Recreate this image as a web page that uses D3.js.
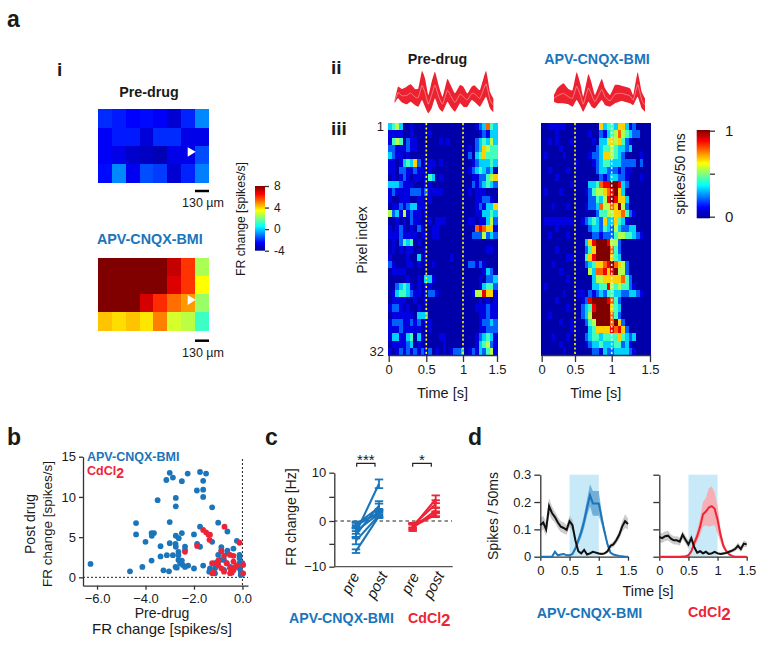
<!DOCTYPE html>
<html><head><meta charset="utf-8">
<script src="https://cdn.jsdelivr.net/npm/d3@7"></script>
<style>
html,body{margin:0;padding:0;background:#fff}
svg{display:block}
text{font-family:"Liberation Sans",Arial,sans-serif;fill:#1a1a1a}
.axis path,.axis line{stroke:#333;stroke-width:1.3}
.axis text{font-family:"Liberation Sans",Arial,sans-serif;fill:#1a1a1a}
</style></head><body>
<script>
// ---------- data ----------
const BLUE="#1a75bb", RED="#ee2436";
const mapPre=[
[-2,-2.2,-2.5,-2.4,-2.6,-3.1,-2.1,-0.9],
[-2.6,-2.2,-2.2,-3,-2,-2,-2.8,-2.8],
[-2.6,-2.8,-3.2,-3.3,-3.5,-2.8,-2.8,-1.6],
[-2.4,-0.9,-2.7,-1.6,-1.8,-3.1,-2.1,-1]];
const mapPost=[
[8,8,8,8,8,7.2,5.9,2.5],
[8,8,8,8,8,6.9,5.9,3.5],
[8,8,8,7,6,5.2,4.7,2.3],
[4.2,3.9,4.2,3.8,5,3,2.7,1.2]];
const rasterLevels=[.03,.09,.22,.33,.44,.55,.67,.78,.89,1];
const rasterPre=[
"3453001000 0000000000 0000123743","1111001000 0100000000 0000012133","1454021100 0000101000 0000234353",
"2211121100 0000000000 0010236544","3211010000 0000000000 0020346444","1101343620 1110100000 0001233343",
"1102211211 0100000000 0012343230","0101210110 1430100000 0001122456","3332111000 1100000000 0002123432",
"1211112221 2111100000 0010111000","1001110011 0100000000 0000112210","0112123311 1000000000 0000121336",
"5231512110 1000000000 0000113343","0010102110 0101110000 0011011352","1012101021 0011000000 0000787661",
"1112111101 1011000000 0002225232","0102434010 0000000000 0000000000","0101011000 1000000000 0000000110",
"1000010030 1000000100 0000000000","2100011010 0010000000 0022121000","0111100000 0000000000 0000001320",
"0000010010 3310000000 0000010223","0023431010 1100000000 0000013442","0134432110 1221000000 0001558661",
"0111100100 1000000000 0000010101","1221010010 0000000000 0000111211","0111111033 3000000000 0000011211",
"1222112120 1100000000 0000012232","1112111110 0100000000 0000011222","1331134031 0000110000 0000123431",
"0111123010 0000010000 0000134521","1012121212 1201010122 3012132451"];
const rasterPost=[
"0011111000 0000006344 3663120000","0000100000 0001002134 5754322000","0010100010 0000103356 5642100000",
"0000010000 0000023445 4332300000","0100001000 0001223665 4320000100","0000000001 0000123443 3322220200",
"0010000100 0000023322 2121100000","0000100000 0000002123 3221000100","0000000010 0003347889 9832000000",
"0100010000 0012455678 9630000000","0000000000 0002243589 8663000000","0001000100 0012237557 6952000000",
"0000000000 0000024455 6674210000","0111111110 0123432633 6431000000","0000100000 0002332432 5322330000",
"0010000100 0000221222 4554432100","0000000000 0036899985 5200000000","0000100000 0024699997 4200000000",
"0000000110 0046899996 4300000000","0001000000 0023466789 7652000000","0000010000 0005377868 9552000000",
"0000000100 0000355666 6674200000","0100000000 0000334485 4544210000","0000001000 1102123244 3322332100",
"0000100000 0128999987 4200000000","0000000100 0234899996 4300000000","0010000000 0235999997 4200000000",
"0000010010 0024599997 9620000000","0000000010 0003466668 7862000000","0001000100 0023443444 4643230000",
"0000010000 0012334333 4423100000","0000001000 0000221322 3333210000"];
const tracePreX=[14,24,35,50,62,75,85,96,105,115,125,135,147,158,172,182,195,210,220,232,245,255,270,288,300,310];
const tracePreTop=[45,85,78,85,92,78,80,132,110,60,100,130,85,55,108,90,65,90,85,65,85,88,75,132,70,50];
const tracePreBot=[35,50,38,32,40,30,25,45,25,5,20,50,20,10,40,25,10,35,25,25,45,38,25,55,20,8];
const tracePostX=[12,22,40,55,68,80,92,100,115,125,135,155,165,180,195,215,240,250,263,275,285];
const tracePostTop=[60,80,95,78,75,128,90,55,122,95,60,108,80,60,90,88,80,60,128,70,50];
const tracePostBot=[40,35,35,32,25,45,25,10,40,25,20,45,30,25,35,42,35,30,55,20,10];
const scatterBlueX=[-6.27,-4.64,-4.13,-4.39,-4.39,-4,-3.75,-3.65,-3.74,-3.5,-3.38,-3.38,-3.75,-3.26,-3.12,-3.03,-3,-3,-3.14,-3,-2.87,-2.87,-2.76,-2.75,-2.75,-2.75,-2.76,-2.63,-2.75,-2.5,-2.5,-2.26,-2.64,-2.64,-2.64,-2.5,-2.57,-2.46,-2.37,-2.71,-2.24,-2.37,-2.37,-2,-2,-1.88,-1.75,-1.5,-1.62,-1.62,-1.62,-1.25,-1.75,-1.87,-1.75,-1.62,-1.25,-1,-0.62,-0.23,-0.87,-0.87,-0.62,-0.62,-0.37,-1,-0.92,-1.13,-1.34,-1.37,-1.13,-1.13,-1,-0.76,-0.65,-0.76,-0.5,-0.37,-0.12,-0.12,-0.12,-0.12,-0.07,-0.07,0,0];
const scatterBlueY=[1.67,0.75,1.3,6.75,5.33,4.42,5.5,5.5,5.17,9.6,3.87,2.6,2.08,0.87,2.75,0.75,4.25,6.87,12.1,13,12.4,2.75,4.17,5.17,8.83,9.87,1.3,4.87,3.8,5.5,11.96,12.9,3.17,2.75,2.17,2.08,1.75,1.54,1.3,1.2,1.46,3.83,3.42,1.1,5.33,10.8,13.1,12.9,12,10.9,10,8.7,6.3,4.17,3.8,1.46,4.42,6.8,5.7,4.54,3.75,3.33,3.33,3,3.58,2.79,2.17,1.75,1.12,0.71,1.12,0.5,1.54,2.17,1.75,0.92,1.3,0.92,2.79,2.37,1.75,1.12,0.71,0.29,1.75,0.42];
const scatterRedX=[-1.62,-1.5,-1.4,-1.34,-1.36,-0.74,-0.12,-1.87,-2.37,-0.87,-1.25,-1.2,-1.25,-1,-1.06,-1,-0.87,-0.76,-0.65,-0.51,-0.37,-0.37,-0.51,-0.37,-0.3,-0.23,-0.51,-0.44,0.03,0.03,-0.76];
const scatterRedY=[5.9,5.6,5.3,5.3,4.67,6.3,4.3,3.9,3.17,3.25,1.75,0.62,0.5,2.08,1.75,1.54,1.12,2.67,1.75,2.79,2.67,1.96,1.12,0.92,1.3,1.46,0.5,0.58,1.54,0.5,0.71];
const blueLinesPre=[-6.6,-4.3,-3,-2.5,-2.2,-1,-0.8,-0.5];
const blueLinesPost=[1,1.2,3.2,7.7,1.5,1.8,2.8,1.5];
const blueErrPre=[0.4,0.8,0.8,1,0.6,0.6,0.5,0.4];
const blueErrPost=[0.4,0.5,0.9,0.9,0.6,0.7,0.8,0.7];
const redLinesPre=[-1.2,-1.5,-1,-1.3,-0.9];
const redLinesPost=[1.3,2.2,3.5,4.5,1.5];
const redErrPre=[0.6,0.7,0.5,0.6,0.5];
const redErrPost=[0.5,0.6,0.8,0.8,0.5];
const timeD=[0,.05,.1,.15,.2,.25,.3,.35,.4,.45,.5,.55,.6,.65,.7,.75,.8,.85,.9,.95,1,1.05,1.1,1.15,1.2,1.25,1.3,1.35,1.4,1.45,1.5];
const dLeftBlack=[.115,.125,.1,.185,.16,.145,.125,.11,.105,.098,.13,.115,.06,.02,.012,.025,.008,.012,.018,.015,.012,.01,.012,.02,.04,.045,.06,.08,.11,.13,.12];
const dLeftBlackErr=[.025,.025,.025,.03,.025,.02,.02,.02,.02,.018,.02,.02,.012,.006,.004,.005,.003,.004,.004,.004,.004,.004,.004,.006,.008,.01,.012,.015,.02,.025,.02];
const dLeftDrug=[0,0,0,0,0,.018,.005,.008,.01,.005,.005,.01,.03,.06,.09,.13,.18,.225,.195,.195,.195,.14,.09,.045,.015,.008,.005,.003,.002,0,0];
const dLeftDrugErr=[0,0,0,0,0,.004,.002,.002,.002,.002,.002,.004,.008,.012,.02,.025,.03,.04,.045,.045,.045,.025,.015,.008,.004,.002,.002,.001,.001,0,0];
const dRightBlack=[.072,.068,.075,.077,.066,.06,.06,.055,.08,.062,.045,.068,.035,.015,.02,.012,.018,.01,.012,.018,.012,.01,.012,.014,.018,.022,.028,.04,.028,.048,.045];
const dRightBlackErr=[.018,.018,.018,.018,.015,.015,.015,.015,.015,.015,.015,.015,.01,.005,.005,.005,.005,.004,.004,.004,.004,.004,.004,.005,.006,.007,.008,.012,.01,.012,.01];
const dRightDrug=[0,0,0,0,0,0,0,0,.001,.002,.005,.02,.05,.075,.11,.155,.165,.18,.185,.175,.135,.08,.04,.02,.008,.003,0,0,0,0,0];
const dRightDrugErr=[0,0,0,0,0,0,0,0,.001,.001,.003,.008,.015,.02,.03,.045,.05,.07,.072,.06,.05,.025,.012,.006,.003,.001,0,0,0,0,0];

// ---------- helpers ----------
const svg=d3.select("body").append("svg").attr("width",762).attr("height",646);
const jetStops=[0,.125,.375,.625,.875,1];
const jetCols=["#00008f","#0000ff","#00ffff","#ffff00","#ff0000","#800000"];
const jet=d3.scaleLinear().domain(jetStops).range(jetCols).clamp(true);
const frColor=d3.scaleLinear().domain(jetStops.map(v=>-4+12*v)).range(jetCols).clamp(true);
function T(x,y,s,o={}){
  const t=svg.append("text").attr("x",x).attr("y",y).text(s)
    .style("font-size",(o.size||14.5)+"px").style("font-weight",o.bold?"700":"400")
    .attr("text-anchor",o.anchor||"start");
  if(o.fill)t.style("fill",o.fill);
  if(o.rot!=null)t.attr("transform",`rotate(${o.rot} ${x} ${y})`);
  if(o.italic)t.style("font-style","italic");
  return t;
}
function styleAxis(g,size){g.attr("class","axis").selectAll("text").style("font-size",(size||13)+"px");return g;}

// ---------- panel letters ----------
T(7,27,"a",{bold:true,size:23});T(7,445,"b",{bold:true,size:23});T(265,445,"c",{bold:true,size:23});T(468,445,"d",{bold:true,size:23});
T(57,76,"i",{bold:true,size:19});T(331,74,"ii",{bold:true,size:19});T(331,135,"iii",{bold:true,size:19});

// ---------- a-i: FR maps ----------
function frMap(data,y0,y1){
  const x=d3.scaleBand().domain(d3.range(8)).range([98,208.7]);
  const y=d3.scaleBand().domain(d3.range(4)).range([y0,y1]);
  data.forEach((row,r)=>{
    svg.append("g").attr("shape-rendering","crispEdges").selectAll("rect").data(row).join("rect")
      .attr("x",(d,c)=>x(c)).attr("y",y(r)).attr("width",x.bandwidth()+.6).attr("height",y.bandwidth()+.6)
      .attr("fill",d=>frColor(d));
  });
}
frMap(mapPre,109.3,182.7);frMap(mapPost,258,330);
T(149,97,"Pre-drug",{bold:true,size:14.3,anchor:"middle"});
T(97,244,"APV-CNQX-BMI",{bold:true,size:14.3,fill:BLUE});
svg.append("path").attr("d",d3.line()([[187.7,147.3],[195.7,151.7],[187.7,156.7]])+"Z").attr("fill","#fff");
svg.append("path").attr("d",d3.line()([[187.7,295],[195.7,299.7],[187.7,305]])+"Z").attr("fill","#fff");
[[191],[340.7]].forEach(([y])=>svg.append("line").attr("x1",195).attr("x2",209).attr("y1",y).attr("y2",y).attr("stroke","#000").attr("stroke-width",2.5));
T(203,207,"130 µm",{size:12.5,anchor:"middle"});T(203,356.5,"130 µm",{size:12.5,anchor:"middle"});

const defs=svg.append("defs");
const lg=defs.append("linearGradient").attr("id","jetGrad").attr("x1",0).attr("x2",0).attr("y1",1).attr("y2",0);
jetStops.forEach((s,i)=>lg.append("stop").attr("offset",s).attr("stop-color",jetCols[i]));
svg.append("rect").attr("x",255).attr("y",186).attr("width",10).attr("height",64.7).attr("fill","url(#jetGrad)");
const cb1=d3.scaleLinear().domain([-4,8]).range([250.7,186]);
styleAxis(svg.append("g").attr("transform","translate(265,0)").call(d3.axisRight(cb1).tickValues([-4,0,4,8]).tickSize(4).tickSizeOuter(0).tickFormat(d=>String(d)).tickPadding(5)),12)
  .select(".domain").remove();
T(245,219,"FR change [spikes/s]",{size:12.2,anchor:"middle",rot:-90});

// ---------- a-ii: traces ----------
function trace(xs,top,bot,range){
  const x=d3.scaleLinear().domain(range.d).range(range.r);
  const y=d3.scaleLinear().domain([0,150]).range([115,65]);
  const a=d3.area().x((d,i)=>x(xs[i])).y0((d,i)=>y(bot[i])).y1(d=>y(d)).curve(d3.curveCardinal.tension(.6));
  svg.append("path").datum(top).attr("d",a).attr("fill","#ed2230");
  const l=d3.line().x((d,i)=>x(xs[i])).y((d,i)=>y((d+bot[i])/2)).curve(d3.curveCardinal.tension(.6));
  svg.append("path").datum(top).attr("d",l).attr("fill","none").attr("stroke","#f7a0a5").attr("stroke-width",.7);
}
trace(tracePreX,tracePreTop,tracePreBot,{d:[0,330],r:[390,500]});
trace(tracePostX,tracePostTop,tracePostBot,{d:[0,300],r:[550,650]});
T(437.5,64,"Pre-drug",{bold:true,size:14.3,anchor:"middle"});
T(597,64,"APV-CNQX-BMI",{bold:true,size:14.3,anchor:"middle",fill:BLUE});

// ---------- a-iii: rasters ----------
function raster(rows,x0,x1,tickPx,lineColors){
  const x=d3.scaleLinear().domain([0,1.5]).range([x0,x1]);
  const xTick=d3.scaleLinear().domain([0,.5,1,1.5]).range(tickPx);
  const y=d3.scaleBand().domain(d3.range(1,33)).range([123,355]);
  const w=x(.05)-x(0);
  rows.forEach((s,r)=>{
    const vals=s.replace(/ /g,"").split("").map(c=>rasterLevels[+c]);
    svg.append("g").attr("shape-rendering","crispEdges").selectAll("rect").data(vals).join("rect")
      .attr("x",(d,c)=>x(c*.05)).attr("y",y(r+1)).attr("width",w+.6).attr("height",y.bandwidth()+.6)
      .attr("fill",d=>jet(d));
  });
  [.5,1].forEach((t,i)=>svg.append("line").attr("x1",xTick(t)).attr("x2",xTick(t)).attr("y1",123).attr("y2",355)
    .attr("stroke",lineColors[i]).attr("stroke-width",1.6).attr("stroke-dasharray","2.2 2.2"));
  styleAxis(svg.append("g").attr("transform","translate(0,355)").call(d3.axisBottom(xTick).tickValues([0,.5,1,1.5]).tickFormat(d3.format("~g")).tickSize(7).tickSizeOuter(0).tickPadding(3)));
  T((x0+x1)/2,397.5,"Time [s]",{anchor:"middle"});
  return y;
}
const yr=raster(rasterPre,388,497,[388.7,426.3,463,497],["#ffff00","#ffff00"]);
raster(rasterPost,540.7,650.7,[541.7,575,611.7,650],["#ffff00","#d8f8ff"]);
styleAxis(svg.append("g").attr("transform","translate(387,0)").call(d3.axisLeft(yr).tickValues([1,32]).tickSize(0).tickPadding(3)),13).select(".domain").remove();
T(367,240,"Pixel index",{size:14,anchor:"middle",rot:-90});
svg.append("rect").attr("x",696.7).attr("y",130).attr("width",13.3).attr("height",88.3).attr("fill","url(#jetGrad)");
const cb2=d3.scaleLinear().domain([0,1]).range([216.7,130.7]);
styleAxis(svg.append("g").attr("transform","translate(710,0)").call(d3.axisRight(cb2).tickValues([0,.5,1]).tickFormat(d=>d===.5?"":d).tickSize(5).tickSizeOuter(0).tickPadding(10)),15).select(".domain").remove();
T(685,174,"spikes/50 ms",{size:14,anchor:"middle",rot:-90});

// ---------- b: scatter ----------
const bx=d3.scaleLinear().domain([-6.58,.23]).range([83,248]);
const by=d3.scaleLinear().domain([-1.04,15]).range([585.7,456.7]);
svg.append("line").attr("x1",83).attr("x2",248).attr("y1",by(0)).attr("y2",by(0)).attr("stroke","#222").attr("stroke-dasharray","2 2").attr("stroke-width",1);
svg.append("line").attr("x1",bx(0)).attr("x2",bx(0)).attr("y1",459).attr("y2",587).attr("stroke","#222").attr("stroke-dasharray","2 2").attr("stroke-width",1);
svg.append("g").selectAll("circle").data(scatterBlueX).join("circle").attr("cx",d=>bx(d)).attr("cy",(d,i)=>by(scatterBlueY[i])).attr("r",2.9).attr("fill",BLUE);
svg.append("g").selectAll("circle").data(scatterRedX).join("circle").attr("cx",d=>bx(d)).attr("cy",(d,i)=>by(scatterRedY[i])).attr("r",2.9).attr("fill",RED);
styleAxis(svg.append("g").attr("transform","translate(83,0)").call(d3.axisLeft(by).tickValues([0,5,10,15]).tickSize(4).tickSizeOuter(0).tickPadding(3)));
styleAxis(svg.append("g").attr("transform","translate(0,585.7)").call(d3.axisBottom(bx).tickValues([-6,-4,-2,0]).tickSize(4).tickSizeOuter(0).tickPadding(4)));
T(87,461,"APV-CNQX-BMI",{bold:true,size:12.5,fill:BLUE});
const cd1=T(87,475,"CdCl",{bold:true,size:12.5,fill:RED});cd1.append("tspan").attr("dy",3).text("2").style("font-size","14px");
T(35,524,"Post drug",{size:14,anchor:"middle",rot:-90});T(52,524,"FR change [spikes/s]",{size:13.5,anchor:"middle",rot:-90});
T(162,618,"Pre-drug",{size:14,anchor:"middle"});T(162,634,"FR change [spikes/s]",{size:15,anchor:"middle"});

// ---------- c: paired ----------
const cy=d3.scaleLinear().domain([-10,0,10]).range([566.7,521,472.7]);
const cxp={pre:356,post:379,pre2:412.7,post2:435.7};
svg.append("line").attr("x1",334).attr("x2",452).attr("y1",cy(0)).attr("y2",cy(0)).attr("stroke","#222").attr("stroke-dasharray","3.5 3").attr("stroke-width",1);
function pairs(pre,post,ep,eq,xa,xb,col){
  const g=svg.append("g").attr("stroke",col).attr("fill","none");
  pre.forEach((v,i)=>{
    g.append("line").attr("x1",xa).attr("x2",xb).attr("y1",cy(v)).attr("y2",cy(post[i])).attr("stroke-width",2.1);
    [[xa,v,ep[i]],[xb,post[i],eq[i]]].forEach(([x,m,e])=>{
      g.append("line").attr("x1",x).attr("x2",x).attr("y1",cy(m-e)).attr("y2",cy(m+e)).attr("stroke-width",1.8);
      [m-e,m+e].forEach(c=>g.append("line").attr("x1",x-4.2).attr("x2",x+4.2).attr("y1",cy(c)).attr("y2",cy(c)).attr("stroke-width",1.8));
    });
  });
}
pairs(blueLinesPre,blueLinesPost,blueErrPre,blueErrPost,cxp.pre,cxp.post,BLUE);
pairs(redLinesPre,redLinesPost,redErrPre,redErrPost,cxp.pre2,cxp.post2,RED);
styleAxis(svg.append("g").attr("transform","translate(334.3,0)").call(d3.axisLeft(cy).tickValues([-10,-5,0,5,10]).tickFormat(d=>d%10===0?d3.format("d")(d):"").tickSize(5).tickSizeOuter(0).tickPadding(3)));
svg.append("line").attr("x1",334).attr("x2",452.7).attr("y1",566.7).attr("y2",566.7).attr("stroke","#555").attr("stroke-width",1.3);
T(296,517,"FR change [Hz]",{size:14,anchor:"middle",rot:-90});
[["pre",cxp.pre,4,576],["post",cxp.post,9,575],["pre",cxp.pre2,7,576],["post",cxp.post2,9,575]].forEach(([s,x,dx,y])=>T(x+dx,y,s,{size:15,italic:true,anchor:"end",rot:-62}));
[[356.7,375,"***"],[412.7,431.3,"*"]].forEach(([a,b,s])=>{
  svg.append("path").attr("d",d3.line()([[a,466.7],[a,463.3],[b,463.3],[b,466.7]])).attr("fill","none").attr("stroke","#222").attr("stroke-width",1.2);
  T((a+b)/2,465,s,{size:15,anchor:"middle"});
});
T(289,623,"APV-CNQX-BMI",{bold:true,size:14.2,fill:BLUE});
const cd2=T(408,623,"CdCl",{bold:true,size:14.2,fill:RED});cd2.append("tspan").attr("dy",3).text("2").style("font-size","17px");

// ---------- d: time courses ----------
const dy=d3.scaleLinear().domain([0,.3]).range([556.7,474.7]);
function psth(x0,x1,black,blackErr,drug,drugErr,col,bandCol,bandOp,labels){
  const x=d3.scaleLinear().domain([0,1.5]).range([x0,x1]);
  svg.append("rect").attr("x",x(.5)).attr("width",x(1)-x(.5)).attr("y",dy(.3)).attr("height",dy(0)-dy(.3)).attr("fill","#c8e9f7");
  const band=(m,e)=>d3.area().x((d,i)=>x(timeD[i])).y0((d,i)=>dy(Math.max(0,d-e[i]))).y1((d,i)=>dy(d+e[i]))(m);
  const line=d3.line().x((d,i)=>x(timeD[i])).y(d=>dy(d));
  svg.append("path").attr("d",band(drug,drugErr)).attr("fill",bandCol).attr("fill-opacity",bandOp);
  svg.append("path").attr("d",band(black,blackErr)).attr("fill","#999").attr("fill-opacity",.5);
  styleAxis(svg.append("g").attr("transform",`translate(${x0},0)`).call(d3.axisLeft(dy).tickValues([0,.1,.2,.3]).tickFormat(labels?d3.format("~g"):"").tickSize(6).tickSizeOuter(0).tickPadding(3)));
  styleAxis(svg.append("g").attr("transform","translate(0,556.7)").call(d3.axisBottom(x).tickValues([0,.5,1,1.5]).tickFormat(d3.format("~g")).tickSize(4).tickSizeOuter(0).tickPadding(5)));
  svg.append("path").attr("d",line(drug)).attr("fill","none").attr("stroke",col).attr("stroke-width",2);
  svg.append("path").attr("d",line(black)).attr("fill","none").attr("stroke","#111").attr("stroke-width",2);
}
psth(540.3,628,dLeftBlack,dLeftBlackErr,dLeftDrug,dLeftDrugErr,BLUE,BLUE,.5,true);
psth(659.3,746.7,dRightBlack,dRightBlackErr,dRightDrug,dRightDrugErr,RED,"#fba9ac",.9,false);
T(498,516,"Spikes / 50ms",{size:14,anchor:"middle",rot:-90});
T(648,596,"Time [s]",{anchor:"middle"});
T(536.7,618,"APV-CNQX-BMI",{bold:true,size:14.3,fill:BLUE});
const cd3=T(688,617,"CdCl",{bold:true,size:14.3,fill:RED});cd3.append("tspan").attr("dy",3).text("2").style("font-size","17px");
</script>
</body></html>
